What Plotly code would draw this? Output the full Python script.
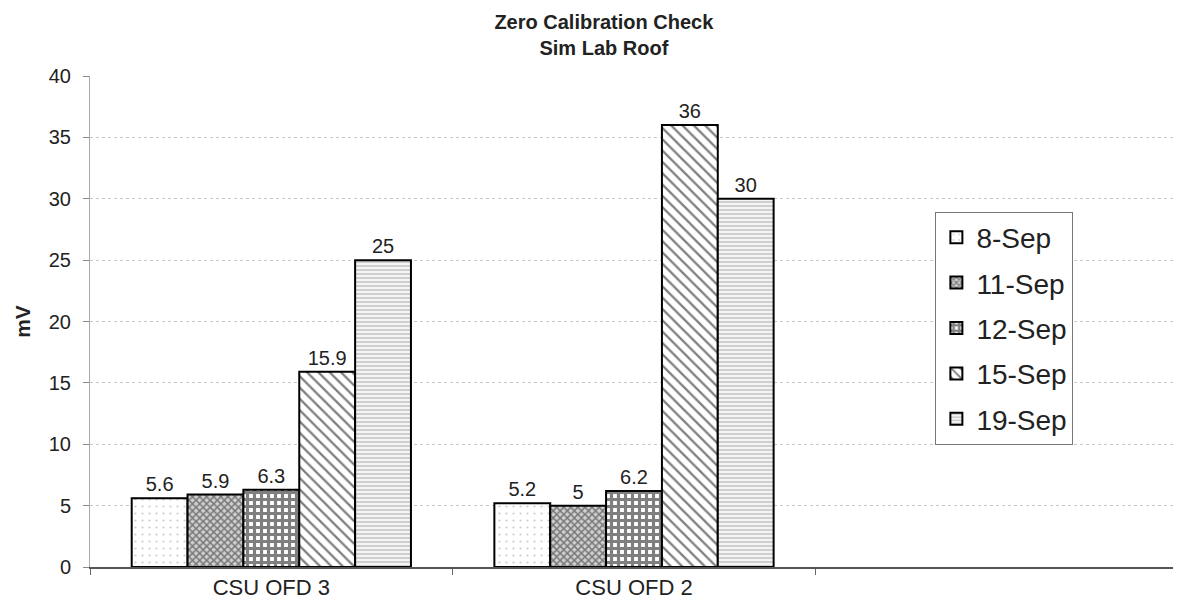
import plotly.graph_objects as go

categories = ["CSU OFD 3", "CSU OFD 2", " "]
series_names = ["8-Sep", "11-Sep", "12-Sep", "15-Sep", "19-Sep"]
values = {
    "8-Sep": [5.6, 5.2, None],
    "11-Sep": [5.9, 5.0, None],
    "12-Sep": [6.3, 6.2, None],
    "15-Sep": [15.9, 36, None],
    "19-Sep": [25, 30, None],
}
y_ticks = [0, 5, 10, 15, 20, 25, 30, 35, 40]

patterns = {
    "8-Sep": dict(shape=".", fgcolor="#9a9a9a", bgcolor="white", size=7, solidity=0.08),
    "11-Sep": dict(shape="x", fgcolor="#222222", bgcolor="#cfcfcf", size=5, solidity=0.5),
    "12-Sep": dict(shape="+", fgcolor="black", bgcolor="white", size=7, solidity=0.7),
    "15-Sep": dict(shape="\\", fgcolor="black", bgcolor="white", size=8, solidity=0.28),
    "19-Sep": dict(shape="-", fgcolor="#999999", bgcolor="#f4f4f4", size=4, solidity=0.4),
}

FONT = "Liberation Sans, Arial, sans-serif"

fig = go.Figure()
for name in series_names:
    vals = values[name]
    fig.add_trace(go.Bar(
        name=name,
        legendgroup=name,
        x=categories,
        y=vals,
        text=["" if v is None else f"{v:g}" for v in vals],
        textposition="outside",
        textfont=dict(size=20, color="#222222", family=FONT),
        marker=dict(color="white", line=dict(color="black", width=2), pattern=patterns[name]),
        cliponaxis=False,
    ))

# page body has an 8px margin: figure is shrunk so the plot area lands where the reference has it
fig.update_layout(
    width=1173, height=604,
    barmode="group", bargap=0.23, bargroupgap=0,
    plot_bgcolor="white", paper_bgcolor="white",
    margin=dict(l=82, r=3, t=68, b=45),
    font=dict(family=FONT, color="#222222"),
    title=dict(
        text="<b>Zero Calibration Check<br>Sim Lab Roof</b>",
        x=0.508, xanchor="center", y=0.966, yanchor="middle",
        font=dict(size=20, color="#222222"),
    ),
    legend=dict(
        x=0.777, y=0.724, xanchor="left", yanchor="top",
        bordercolor="#777777", borderwidth=1, bgcolor="white",
        font=dict(size=28, color="#222222"),
        tracegroupgap=6, itemsizing="constant",
    ),
    showlegend=True,
)

fig.update_xaxes(
    type="category", categoryorder="array", categoryarray=categories,
    range=[-0.5, 2.5],
    tickson="boundaries", ticks="outside", ticklen=6, tickcolor="#666666",
    showline=True, linecolor="#555555", linewidth=1.5,
    showgrid=False,
    tickfont=dict(size=22, color="#222222"),
)
fig.update_yaxes(
    range=[0, 40], tickvals=y_ticks,
    ticks="outside", ticklen=6, tickcolor="#888888", ticklabelstandoff=8,
    showline=True, linecolor="#aaaaaa", linewidth=1,
    showgrid=True, gridcolor="#c8c8c8", griddash="dot", gridwidth=1,
    zeroline=False,
    tickfont=dict(size=20, color="#222222"),
    title=dict(text="<b>mV</b>", font=dict(size=21, color="#222222"), standoff=12),
)

fig.write_html("out.html")
